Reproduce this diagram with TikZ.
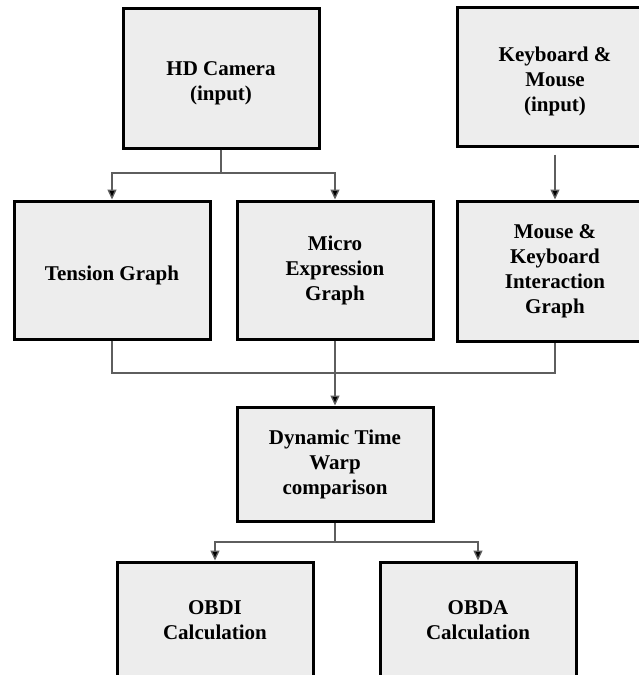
\documentclass[tikz,border=0pt]{standalone}
\usepackage{fontspec}
\setmainfont{Liberation Serif}
\usetikzlibrary{arrows.meta}
\begin{document}
\begin{tikzpicture}[x=1pt,y=-1pt,
  txt/.style={align=center, font=\fontsize{21}{25}\selectfont\bfseries, inner sep=0pt},
  block/.style={txt, draw=black, line width=3pt, fill=boxgray, minimum width=196pt},
  lowtext/.style={label={[txt, yshift=-5pt]center:{#1}}},
  link/.style={draw=linegray, line width=1.3pt},
  flow/.style={link, -{Triangle[length=10pt,width=9pt,fill=black]}}]
\definecolor{boxgray}{HTML}{EDEDED}
\definecolor{linegray}{HTML}{5E5E5E}
\useasboundingbox (0,0) rectangle (639,675);
\fill[white] (0,0) rectangle (639,675);

% inputs
\node[block, minimum height=140pt, lowtext={HD Camera\\(input)}] (cam) at (221,78) {};
\node[block, minimum height=139pt, lowtext={Keyboard \&\\Mouse\\(input)}] (kb) at (555,76.5) {};

% graphs
\node[block, minimum height=138pt, lowtext={Tension Graph}] (ten) at (112,270) {};
\node[block, minimum height=138pt] (mic) at (335,270) {Micro\\Expression\\Graph};
\node[block, minimum height=140pt] (mk) at (555,271) {Mouse \&\\Keyboard\\Interaction\\Graph};

% comparison
\node[block, minimum height=114pt] (dtw) at (335,464) {Dynamic Time\\Warp\\comparison};

% outputs
\node[block, minimum height=116pt] (obdi) at (215,620) {OBDI\\Calculation};
\node[block, minimum height=116pt] (obda) at (478,620) {OBDA\\Calculation};

% branch points
\coordinate (camsplit) at (221,173);
\coordinate (mergeL) at (112,373);
\coordinate (mergeR) at (555,373);
\coordinate (dtwsplit) at (335,542);

% camera to the two graphs
\draw[link] (cam.south) -- (camsplit);
\draw[flow] (camsplit) -| (ten.north);
\draw[flow] (camsplit) -| (mic.north);
% keyboard and mouse to interaction graph
\draw[flow] ([yshift=-7pt]kb.south) -- (mk.north);
% graphs merged into the comparison
\draw[link] (ten.south) -- (mergeL) -- (mergeR) -- (mk.south);
\draw[flow] (mic.south) -- (dtw.north);
% comparison to the two calculations
\draw[link] (dtw.south) -- (dtwsplit);
\draw[flow] (dtwsplit) -| (obdi.north);
\draw[flow] (dtwsplit) -| (obda.north);
\end{tikzpicture}
\end{document}
